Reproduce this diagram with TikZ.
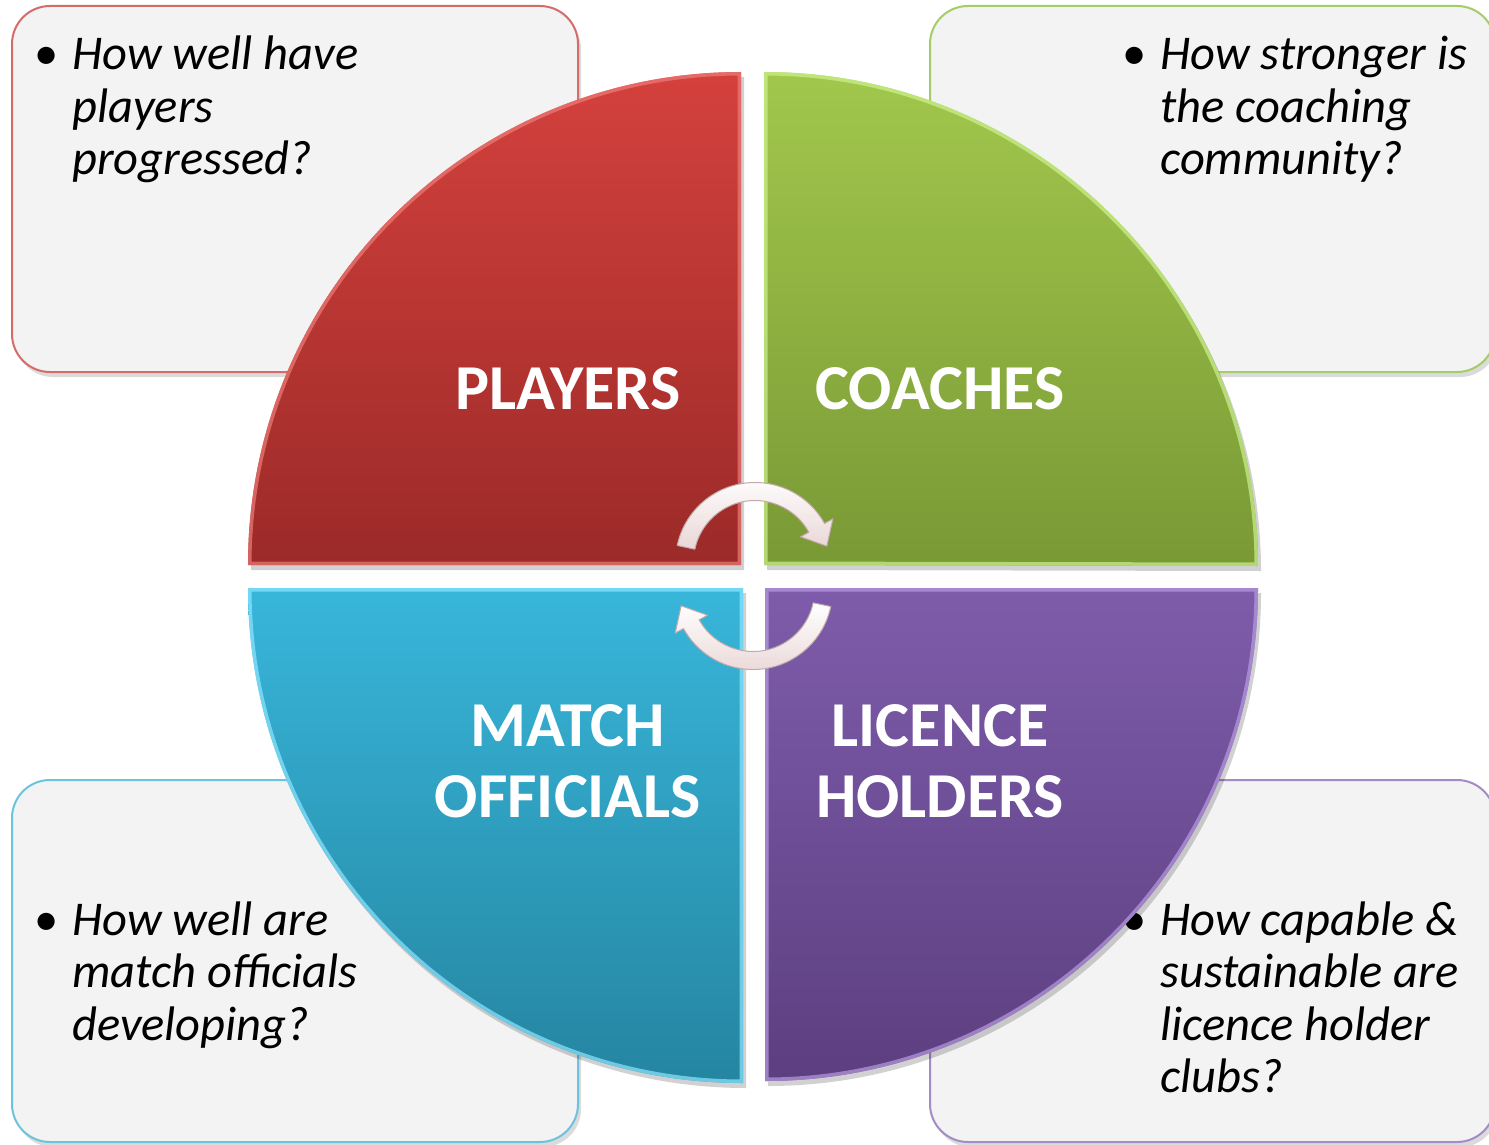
\documentclass[tikz,border=0pt]{standalone}
\usepackage{fontspec}
\newfontfamily\carl{Carlito}
\usetikzlibrary{calc}
\definecolor{boxfill}{HTML}{F3F3F3}
\definecolor{redline}{HTML}{D46C6A}
\definecolor{greenline}{HTML}{A6CC68}
\definecolor{blueline}{HTML}{6CC3DD}
\definecolor{purpleline}{HTML}{A38CC6}
\definecolor{redtop}{HTML}{D4413D}
\definecolor{redbot}{HTML}{9B2A28}
\definecolor{greentop}{HTML}{A2C74C}
\definecolor{greenbot}{HTML}{799935}
\definecolor{bluetop}{HTML}{38B6DA}
\definecolor{bluebot}{HTML}{2585A1}
\definecolor{purpletop}{HTML}{7E5CAB}
\definecolor{purplebot}{HTML}{5C3F80}
\definecolor{redhi}{HTML}{EE7C78}
\definecolor{greenhi}{HTML}{CBF28E}
\definecolor{bluehi}{HTML}{8EE6FF}
\definecolor{purplehi}{HTML}{B89CE0}
\definecolor{arrowfill}{HTML}{EAD6D6}
\definecolor{arrowline}{HTML}{C2AAAA}
\begin{document}
\begin{tikzpicture}[x=1pt,y=-1pt,
  qbox/.style={fill=boxfill, line width=2pt, rounded corners=38pt},
  qshadow/.style={fill=black, opacity=0.14, rounded corners=38pt},
  qtext/.style={anchor=base west, inner sep=0pt, align=left, text=black,
    font=\carl\itshape\fontsize{48.5}{52.5}\selectfont},
  lbl/.style={inner sep=0pt, align=center, text=white,
    font=\carl\bfseries\fontsize{64}{71}\selectfont},
  arrowbody/.style={top color=white, bottom color=arrowfill, draw=arrowline, line width=1pt, line join=round}
]
\clip (0,0) rectangle (1489,1145);
\fill[white] (0,0) rectangle (1489,1145);

% ---- question boxes ----
\fill[qshadow] (15,11) rectangle (581,377);
\draw[qbox, draw=redline] (12,6) rectangle (578,372);
\fill[qshadow] (933,11) rectangle (1498,377);
\draw[qbox, draw=greenline] (930,6) rectangle (1495,372);
\fill[qshadow] (15,785) rectangle (581,1147);
\draw[qbox, draw=blueline] (12,780) rectangle (578,1142);
\fill[qshadow] (933,785) rectangle (1498,1147);
\draw[qbox, draw=purpleline] (930,780) rectangle (1495,1142);

% node base = baseline of the last line
\node[qtext] (qtl) at (72,175) {\llap{\upshape•\hspace{14pt}}How well have\\players\\progressed?};
\node[qtext] (qtr) at (1160,175) {\llap{\upshape•\hspace{14pt}}How stronger is\\the coaching\\community?};
\node[qtext] (qbl) at (72,1040) {\llap{\upshape•\hspace{14pt}}How well are\\match officials\\developing?};
\node[qtext] (qbr) at (1160,1092.5) {\llap{\upshape•\hspace{14pt}}How capable \&\\sustainable are\\licence holder\\clubs?};

% ---- quadrants ----
\def\redq{(741,565) -- (248,565) arc[start angle=180,end angle=270,radius=493] -- cycle}
\def\greenq{(764,565) -- (764,72) arc[start angle=270,end angle=360,radius=494] -- cycle}
\def\blueq{(743,588) -- (248,588) arc[start angle=180,end angle=90,radius=495] -- cycle}
\def\purpleq{(765,588) -- (1258,588) arc[start angle=0,end angle=90,radius=493] -- cycle}

\begin{scope}[shift={(3,5)}]
  \fill[black,opacity=0.18] \redq;
  \fill[black,opacity=0.18] \greenq;
  \fill[black,opacity=0.18] \blueq;
  \fill[black,opacity=0.18] \purpleq;
\end{scope}

\shade[top color=redtop, bottom color=redbot] \redq;
\begin{scope}\clip \redq; \draw[redhi, line width=7pt, opacity=0.7] \redq; \end{scope}
\shade[top color=greentop, bottom color=greenbot] \greenq;
\begin{scope}\clip \greenq; \draw[greenhi, line width=7pt, opacity=0.7] \greenq; \end{scope}
\shade[top color=bluetop, bottom color=bluebot] \blueq;
\begin{scope}\clip \blueq; \draw[bluehi, line width=7pt, opacity=0.7] \blueq; \end{scope}
\shade[top color=purpletop, bottom color=purplebot] \purpleq;
\begin{scope}\clip \purpleq; \draw[purplehi, line width=7pt, opacity=0.7] \purpleq; \end{scope}

\node[lbl] (players) at (568,389) {PLAYERS};
\node[lbl] (coaches) at (940,389) {COACHES};
\node[lbl] (officials) at (568,761) {MATCH\\OFFICIALS};
\node[lbl] (holders) at (940,761) {LICENCE\\HOLDERS};

% ---- cycle arrows ----
\coordinate (C1) at (755,562);
\coordinate (C2) at (753,590);
\path[arrowbody] ($(C1)+(192:79.5)$) arc[start angle=192,end angle=331,radius=79.5]
  -- ($(C1)+(331:89)$) -- ($(C1)+(331:70.5)+(61:21)$) -- ($(C1)+(331:52)$)
  -- ($(C1)+(331:61.5)$) arc[start angle=331,end angle=192,radius=61.5] -- cycle;
\path[arrowbody] ($(C2)+(12:79.5)$) arc[start angle=12,end angle=151,radius=79.5]
  -- ($(C2)+(151:89)$) -- ($(C2)+(151:70.5)+(241:21)$) -- ($(C2)+(151:52)$)
  -- ($(C2)+(151:61.5)$) arc[start angle=151,end angle=12,radius=61.5] -- cycle;
\end{tikzpicture}
\end{document}
